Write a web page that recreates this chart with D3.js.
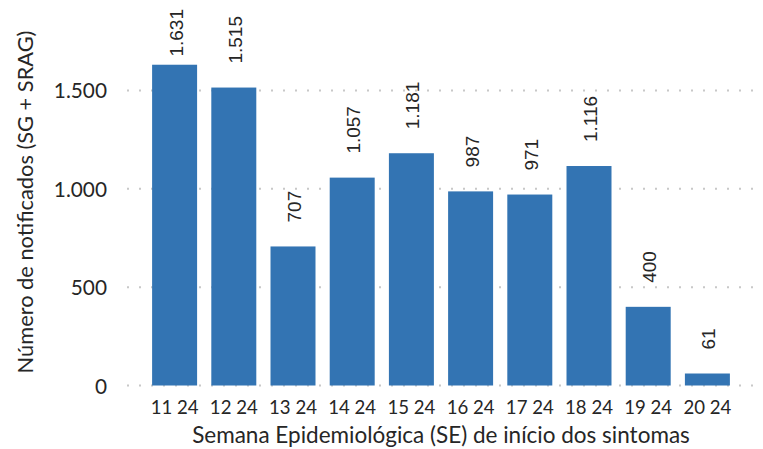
<!DOCTYPE html>
<html><head><meta charset="utf-8">
<script src="https://cdn.jsdelivr.net/npm/d3@7"></script>
<style>body{margin:0;background:#fff}text{font-family:Lato,"Open Sans",sans-serif;fill:#262626}</style>
</head><body><svg id="c" width="763" height="449"></svg>
<script>
const categories = ["11 24","12 24","13 24","14 24","15 24","16 24","17 24","18 24","19 24","20 24"];
const values = [1631,1515,707,1057,1181,987,971,1116,400,61];
const yTicks = [0,500,1000,1500];
const yTitle = "Número de notificados (SG + SRAG)";
const xTitle = "Semana Epidemiológica (SE) de início dos sintomas";

const loc = d3.formatLocale({decimal:",", thousands:".", grouping:[3], currency:["R$",""]});
const fmt = loc.format(",d");
const svg = d3.select("#c");
const x = d3.scaleBand().domain(categories).range([145,737]).paddingInner(0.24).paddingOuter(0.12);
const y = d3.scaleLinear().domain([0,2000]).range([385.5, 385.5-0.19667*2000]);

// grid
svg.append("g").selectAll("line").data(yTicks).join("line")
  .attr("x1",127).attr("x2",760).attr("y1",d=>y(d)).attr("y2",d=>y(d))
  .attr("stroke","#c8c8c8").attr("stroke-width",2).attr("stroke-dasharray","2,10");

// y axis labels
const ya = svg.append("g").attr("transform","translate(107,0)")
  .call(d3.axisLeft(y).tickValues(yTicks).tickFormat(fmt).tickSize(0).tickPadding(0));
ya.select(".domain").remove();
ya.selectAll("text").style("font-size","20.8px").attr("dy","0.36em").attr("fill","#262626");

// bars
svg.append("g").selectAll("rect").data(values).join("rect")
  .attr("x",(d,i)=>x(categories[i])).attr("width",x.bandwidth())
  .attr("y",d=>y(d)).attr("height",d=>y(0)-y(d)).attr("fill","#3374b3");

// value labels
const vl = svg.append("g").selectAll("text").data(values).join("text")
  .attr("text-anchor","start").style("font-family","'Liberation Sans',Arial,sans-serif").style("font-size","19px").text(d=>fmt(d));
vl.each(function(d,i){
  const len = this.getComputedTextLength();
  const yy = Math.max(y(d)-24, 9+len);
  d3.select(this).attr("transform",`translate(${x(categories[i])+x.bandwidth()/2+8},${yy}) rotate(-90)`);
});

// x axis labels
const xa = svg.append("g").attr("transform","translate(0,414)")
  .call(d3.axisBottom(x).tickSize(0).tickPadding(0));
xa.select(".domain").remove();
xa.selectAll("text").attr("dy","0").attr("y",0).style("font-size","18.6px").attr("fill","#262626");

svg.append("text").attr("x",441).attr("y",443).attr("text-anchor","middle").style("font-size","22.5px").text(xTitle);
svg.append("text").attr("transform","translate(33,202) rotate(-90)").attr("text-anchor","middle").style("font-size","21.8px").text(yTitle);
</script></body></html>
